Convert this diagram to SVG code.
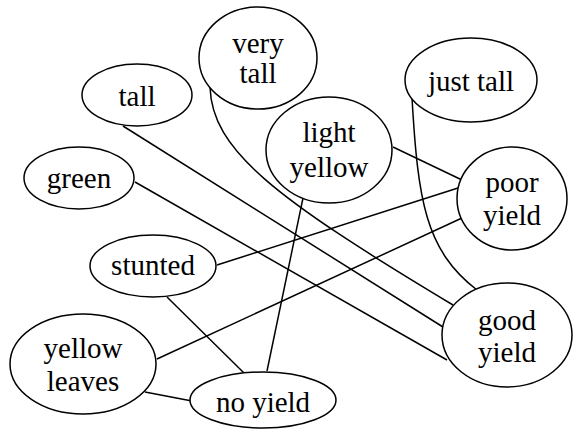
<svg xmlns="http://www.w3.org/2000/svg" width="577" height="430" viewBox="0 0 577 430">
<style>
.n ellipse{fill:#fff;stroke:#000;stroke-width:1.5}
.n text{font-family:"Liberation Serif","Times New Roman",serif;font-size:29px;fill:#000;text-anchor:middle}
#edges path,#edges line{fill:none;stroke:#000;stroke-width:1.5}
</style>
<rect width="577" height="430" fill="#fff"/>
<g id="edges">
<path d="M210,87 C212,150 273,197 453,305"/>
<path d="M412,98 C418,200 425,250 477,290"/>
<line x1="123" y1="126" x2="443" y2="327"/>
<line x1="135" y1="182" x2="447" y2="360"/>
<line x1="393" y1="147" x2="462" y2="180"/>
<line x1="217" y1="265" x2="458" y2="188"/>
<line x1="157" y1="359" x2="462" y2="218"/>
<line x1="303" y1="198" x2="267" y2="371"/>
<line x1="167" y1="297" x2="244" y2="373"/>
<line x1="145" y1="392" x2="192" y2="401"/>
</g>
<g id="tall" class="n"><ellipse cx="137" cy="95" rx="55" ry="31"/><text x="137" y="106">tall</text></g>
<g id="very_tall" class="n"><ellipse cx="258" cy="58" rx="59" ry="51"/><text x="258" y="53">very</text><text x="258" y="83">tall</text></g>
<g id="green" class="n"><ellipse cx="79" cy="178" rx="55" ry="31"/><text x="79" y="188">green</text></g>
<g id="light_yellow" class="n"><ellipse cx="329" cy="150" rx="63" ry="53"/><text x="329" y="142">light</text><text x="329" y="177">yellow</text></g>
<g id="just_tall" class="n"><ellipse cx="471" cy="80" rx="66" ry="42"/><text x="471" y="91">just tall</text></g>
<g id="poor_yield" class="n"><ellipse cx="512" cy="198.5" rx="55" ry="51.5"/><text x="512" y="192">poor</text><text x="512" y="225">yield</text></g>
<g id="good_yield" class="n"><ellipse cx="507" cy="335" rx="65" ry="52"/><text x="507" y="330">good</text><text x="507" y="362">yield</text></g>
<g id="stunted" class="n"><ellipse cx="153" cy="266" rx="63" ry="31"/><text x="153" y="275">stunted</text></g>
<g id="yellow_leaves" class="n"><ellipse cx="83" cy="364" rx="73" ry="50"/><text x="83" y="358">yellow</text><text x="83" y="391">leaves</text></g>
<g id="no_yield" class="n"><ellipse cx="263" cy="400" rx="73" ry="28"/><text x="263" y="412">no yield</text></g>
</svg>
